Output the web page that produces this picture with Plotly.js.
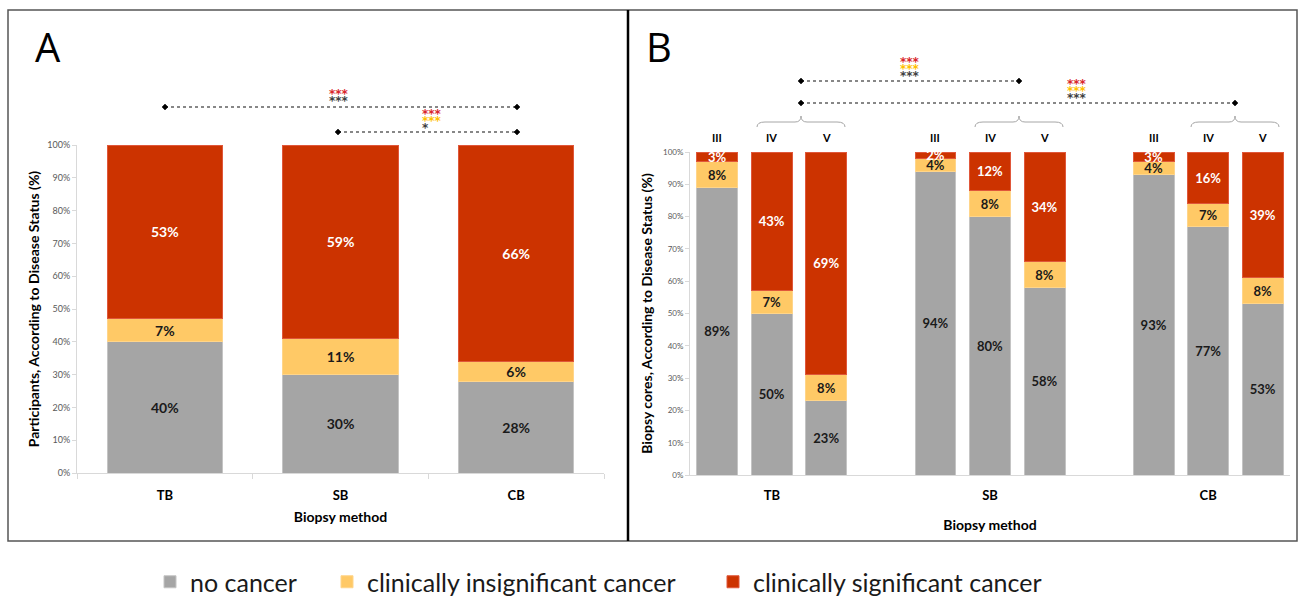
<!DOCTYPE html>
<html>
<head>
<meta charset="utf-8">
<script src="https://cdn.plot.ly/plotly-3.0.1.min.js"></script>
<style>html,body{margin:0;padding:0;background:#fff;}#chart{width:1298px;height:596px;}</style>
</head>
<body>
<div id="chart"></div>
<script>
// ---------- data ----------
const categoriesA = ['TB', 'SB', 'CB'];
const noCancerA = [40, 30, 28];
const insignificantA = [7, 11, 6];
const significantA = [53, 59, 66];

const groupsB = ['TB', 'SB', 'CB'];
const levelsB = ['III', 'IV', 'V'];
const noCancerB = [89, 50, 23, 94, 80, 58, 93, 77, 53];
const insignificantB = [8, 7, 8, 4, 8, 8, 4, 7, 8];
const significantB = [3, 43, 69, 2, 12, 34, 3, 16, 39];

const seriesNames = ['no cancer', 'clinically insignificant cancer', 'clinically significant cancer'];
const yTickVals = [0, 10, 20, 30, 40, 50, 60, 70, 80, 90, 100];
const yTickText = yTickVals.map(v => v + '%');

// ---------- styling ----------
const W = 1298, H = 596;
const FONT = 'Lato, "Open Sans", "DejaVu Sans", sans-serif';
const colors = ['#a5a5a5', '#ffc966', '#cc3300'];
const edgeColors = ['#c4c4c4', '#ffd58a', '#e0573a'];
const textColors = ['#1a1a1a', '#1a1a1a', '#ffffff'];
const px = x => x / W;
const py = y => 1 - y / H;

// positions of panel B bars: groups separated by one empty slot
const xB = [];
groupsB.forEach((g, gi) => levelsB.forEach((l, li) => xB.push(gi * 4 + li)));
const groupCentersB = groupsB.map((g, gi) => gi * 4 + 1);

const pct = arr => arr.map(v => v + '%');
const seriesA = [noCancerA, insignificantA, significantA];
const seriesB = [noCancerB, insignificantB, significantB];
const legendIds = ['legend', 'legend2', 'legend3'];

const traces = [];
seriesA.forEach((vals, i) => {
  traces.push({
    type: 'bar', x: categoriesA, y: vals, name: seriesNames[i],
    xaxis: 'x', yaxis: 'y', width: 0.655,
    marker: {color: colors[i], line: {color: edgeColors[i], width: 1}},
    text: pct(vals), textposition: 'inside', insidetextanchor: 'middle',
    textangle: 0, constraintext: 'none',
    textfont: {family: FONT, size: 14, color: textColors[i], weight: 'bold'},
    legend: legendIds[i], showlegend: true, hoverinfo: 'skip'
  });
});
seriesB.forEach((vals, i) => {
  traces.push({
    type: 'bar', x: xB, y: vals, name: seriesNames[i],
    xaxis: 'x2', yaxis: 'y2', width: 0.75,
    marker: {color: colors[i], line: {color: edgeColors[i], width: 1}},
    text: pct(vals), textposition: 'inside', insidetextanchor: 'middle',
    textangle: 0, constraintext: 'none',
    textfont: {family: FONT, size: 13, color: textColors[i], weight: 'bold'},
    legend: legendIds[i], showlegend: false, hoverinfo: 'skip'
  });
});

// ---------- decorations ----------
const shapes = [];
const annotations = [];
// frame
shapes.push({type: 'rect', xref: 'paper', yref: 'paper', x0: px(8), x1: px(1297), y0: py(541), y1: py(10),
  line: {color: '#555555', width: 1.5}});
shapes.push({type: 'line', xref: 'paper', yref: 'paper', x0: px(628), x1: px(628), y0: py(541), y1: py(10),
  line: {color: '#000000', width: 2.5}});

function bracket(x0, x1, y) {
  shapes.push({type: 'line', xref: 'paper', yref: 'paper', x0: px(x0), x1: px(x1), y0: py(y), y1: py(y),
    line: {color: '#111111', width: 1.2, dash: 'dot'}});
  [x0, x1].forEach(x => {
    const d = 3;
    shapes.push({type: 'path', xref: 'paper', yref: 'paper',
      path: `M${px(x - d)},${py(y)} L${px(x)},${py(y - d)} L${px(x + d)},${py(y)} L${px(x)},${py(y + d)} Z`,
      fillcolor: '#000000', line: {color: '#000000', width: 0.5}});
  });
}
// a stack of star rows in one text: small base size gives tight line spacing
function starStack(x, yTop, rows, align) {
  const txt = rows.map(r => `<span style="color:${r[1]};font-size:12px">${r[0]}</span>`).join('<br>');
  annotations.push({xref: 'paper', yref: 'paper', x: px(x), y: py(yTop), text: txt, showarrow: false,
    xanchor: 'center', yanchor: 'top', align: align || 'center',
    font: {family: '"DejaVu Sans", sans-serif', size: 5.2, color: '#000', weight: 'bold'}});
}
function brace(c, half) {
  const yEnd = 127, yMid = 122, yTip = 116;
  const p = (x, y) => `${px(x)},${py(y)}`;
  shapes.push({type: 'path', xref: 'paper', yref: 'paper',
    path: `M${p(c - half, yEnd)} Q${p(c - half, yMid)} ${p(c - half + 8, yMid)} L${p(c - 6, yMid)} Q${p(c, yMid)} ${p(c, yTip)} Q${p(c, yMid)} ${p(c + 6, yMid)} L${p(c + half - 8, yMid)} Q${p(c + half, yMid)} ${p(c + half, yEnd)}`,
    line: {color: '#a6a6a6', width: 1}});
}
const RED = '#d9262c', YEL = '#ffc000', BLK = '#404040';

// Panel A significance
bracket(165, 517, 107);
starStack(339, 85, [['***', RED], ['***', BLK]]);
bracket(338, 517, 132);
starStack(432, 105, [['***', RED], ['***', YEL], ['*', BLK]], 'left');

// Panel B significance
bracket(801, 1019, 81);
starStack(910, 53, [['***', RED], ['***', YEL], ['***', BLK]]);
bracket(801, 1235, 103);
starStack(1077, 75, [['***', RED], ['***', YEL], ['***', BLK]]);
brace(801, 44);
brace(1019, 44);
brace(1235, 44);

// level labels above bars of panel B
xB.forEach((x, k) => {
  annotations.push({xref: 'x2', yref: 'paper', x: x, y: py(138), text: levelsB[k % levelsB.length],
    showarrow: false, xanchor: 'center', yanchor: 'middle',
    font: {family: FONT, size: 11, color: '#000000', weight: 'bold'}});
});

// panel letters
annotations.push({xref: 'paper', yref: 'paper', x: px(48), y: py(47), text: 'A', showarrow: false,
  xanchor: 'center', yanchor: 'middle', font: {family: '"Open Sans", ' + FONT, size: 40, color: '#000'}});
annotations.push({xref: 'paper', yref: 'paper', x: px(659), y: py(47), text: 'B', showarrow: false,
  xanchor: 'center', yanchor: 'middle', font: {family: '"Open Sans", ' + FONT, size: 40, color: '#000'}});

const axisCommon = {
  showline: true, linecolor: '#d9d9d9', linewidth: 1, showgrid: false, zeroline: false,
  fixedrange: true
};
const yCommon = Object.assign({}, axisCommon, {
  range: [0, 100], tickmode: 'array', tickvals: yTickVals, ticktext: yTickText, ticks: 'outside', ticklen: 4,
  tickcolor: '#d9d9d9'
});

const legendCommon = {
  orientation: 'h', yref: 'paper', xref: 'paper', y: py(582), yanchor: 'middle', xanchor: 'left',
  bgcolor: 'rgba(0,0,0,0)', font: {family: FONT, size: 25, color: '#1a1a1a'}, itemclick: false, itemdoubleclick: false
};

const layout = {
  width: W, height: H, margin: {l: 0, r: 0, t: 0, b: 0, autoexpand: false},
  paper_bgcolor: '#ffffff', plot_bgcolor: 'rgba(0,0,0,0)',
  barmode: 'stack',
  font: {family: FONT},
  xaxis: Object.assign({}, axisCommon, {
    domain: [px(77), px(604)], anchor: 'y', type: 'category',
    ticks: 'outside', tickson: 'boundaries', ticklen: 5, tickcolor: '#d9d9d9',
    ticklabelstandoff: 10,
    tickfont: {family: FONT, size: 13, color: '#000', weight: 'bold'},
    title: {text: 'Biopsy method', font: {family: FONT, size: 14, color: '#000', weight: 'bold'}, standoff: 10}
  }),
  yaxis: Object.assign({}, yCommon, {
    domain: [py(473), py(145)], anchor: 'x',
    tickfont: {family: FONT, size: 9, color: '#595959'},
    title: {text: 'Participants, According to Disease Status (%)', font: {family: FONT, size: 14, color: '#000', weight: 'bold'}}
  }),
  xaxis2: Object.assign({}, axisCommon, {
    domain: [px(690), px(1290)], anchor: 'y2', range: [-0.5, 10.5],
    tickmode: 'array', tickvals: groupCentersB, ticktext: groupsB, ticks: '',
    ticklabelstandoff: 8,
    tickfont: {family: FONT, size: 13, color: '#000', weight: 'bold'},
    title: {text: 'Biopsy method', font: {family: FONT, size: 14, color: '#000', weight: 'bold'}, standoff: 18}
  }),
  yaxis2: Object.assign({}, yCommon, {
    domain: [py(475), py(152)], anchor: 'x2',
    tickfont: {family: FONT, size: 8, color: '#595959'},
    title: {text: 'Biopsy cores, According to Disease Status (%)', font: {family: FONT, size: 14, color: '#000', weight: 'bold'}}
  }),
  legend: Object.assign({}, legendCommon, {x: px(150)}),
  legend2: Object.assign({}, legendCommon, {x: px(327)}),
  legend3: Object.assign({}, legendCommon, {x: px(713)}),
  shapes: shapes,
  annotations: annotations
};

Plotly.newPlot('chart', traces, layout, {displayModeBar: false, staticPlot: true});
</script>
</body>
</html>
